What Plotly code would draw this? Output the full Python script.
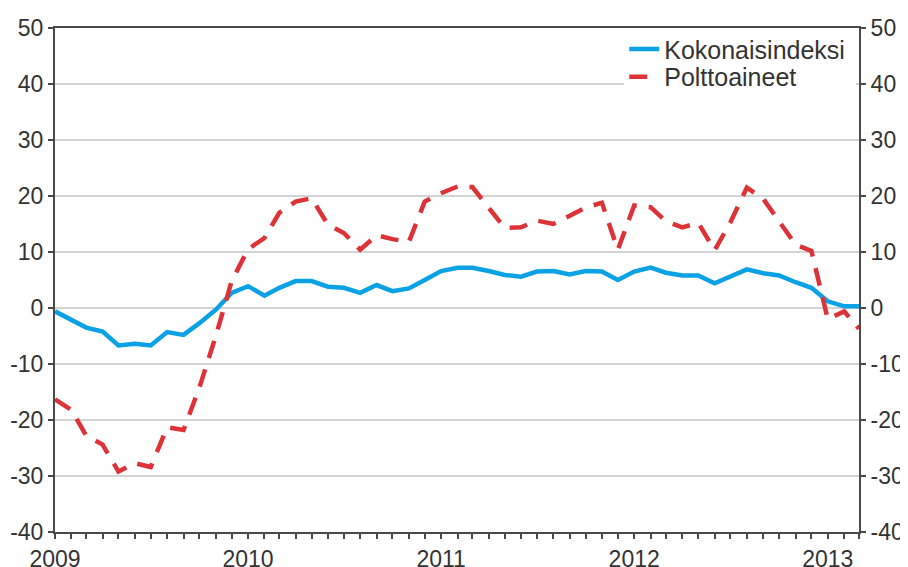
import plotly.graph_objects as go
import pandas as pd

months = [d.strftime("%Y-%m-%d") for d in pd.date_range("2009-01-01", "2013-03-01", freq="MS")]

kokonaisindeksi = [
    -0.6, -2.1, -3.5, -4.2, -6.7, -6.4, -6.7, -4.3, -4.8, -2.7, -0.3, 2.7,
    3.9, 2.2, 3.6, 4.8, 4.8, 3.8, 3.6, 2.7, 4.1, 3.0, 3.5, 5.0,
    6.6, 7.2, 7.2, 6.6, 5.9, 5.6, 6.5, 6.6, 6.0, 6.6, 6.5, 5.0,
    6.5, 7.2, 6.3, 5.8, 5.8, 4.4, 5.6, 6.9, 6.2, 5.8, 4.6, 3.6,
    1.2, 0.3, 0.3,
]

polttoaineet = [
    -16.3, -18.2, -22.8, -24.4, -29.2, -27.7, -28.4, -21.3, -21.8, -14.2, -5.0, 4.8,
    10.5, 12.5, 17.0, 19.0, 19.6, 14.9, 13.4, 10.4, 13.0, 12.3, 11.8, 19.0,
    20.5, 21.7, 21.6, 18.0, 14.3, 14.4, 15.6, 15.0, 16.4, 17.9, 18.8, 10.4,
    18.3, 18.0, 15.5, 14.4, 15.2, 10.3, 15.3, 21.5, 19.5, 15.5, 11.3, 10.2,
    -2.0, -0.6, -3.7,
]

series_names = ["Kokonaisindeksi", "Polttoaineet"]
y_ticks = [-40, -30, -20, -10, 0, 10, 20, 30, 40, 50]
y_labels = ["-40", "-30", "-20", "-10", "0", "10", "20", "30", "40", "50"]
year_ticks = ["2009-01-01", "2010-01-01", "2011-01-01", "2012-01-01", "2013-01-01"]
year_labels = ["2009", "2010", "2011", "2012", "2013"]

BLUE = "#0AA2E4"
RED = "#DD3338"
AXIS = "#4a4a4a"
TEXT = "#333333"
FONT = "Liberation Sans, Arial, sans-serif"
TICKSIZE = 23
LEGSIZE = 25

fig = go.Figure()
fig.add_trace(go.Scatter(
    x=months, y=kokonaisindeksi, name=series_names[0], mode="lines",
    line=dict(color=BLUE, width=4.5), legend="legend2",
))
fig.add_trace(go.Scatter(
    x=months, y=polttoaineet, name=series_names[1], mode="lines",
    line=dict(color=RED, width=4.5, dash="18px,12px"), legend="legend",
))
# invisible trace to drive the right-hand axis
fig.add_trace(go.Scatter(
    x=months, y=kokonaisindeksi, yaxis="y2", mode="lines",
    line=dict(color="rgba(0,0,0,0)", width=0), showlegend=False, hoverinfo="skip",
))

legend_common = dict(
    xanchor="left", yanchor="middle", borderwidth=0,
    font=dict(family=FONT, size=LEGSIZE, color=TEXT), itemwidth=30,
)

# page body has an 8px default margin, so the figure is sized to fit inside it
fig.update_layout(
    width=900, height=559,
    margin=dict(l=47, r=49, t=20, b=35),
    paper_bgcolor="white", plot_bgcolor="white",
    font=dict(family=FONT, size=TICKSIZE, color=TEXT),
    showlegend=True,
    # Polttoaineet row: white box hides the 40 gridline behind the legend
    legend=dict(x=0.708, y=0.903, bgcolor="white", **legend_common),
    # Kokonaisindeksi row: drawn on top, transparent so it does not hide the row below
    legend2=dict(x=0.708, y=0.958, bgcolor="rgba(255,255,255,0)", **legend_common),
    # white legend background band reaching to the right axis
    shapes=[dict(type="rect", xref="paper", yref="paper", x0=0.71, x1=0.996,
                 y0=0.87, y1=0.93, fillcolor="white", line=dict(width=0), layer="above")],
    xaxis=dict(
        type="date", automargin=False,
        range=["2009-01-01", "2013-03-01"],
        tickvals=year_ticks, ticktext=year_labels,
        ticks="outside", ticklen=5, tickwidth=2, tickcolor=AXIS,
        showline=True, linecolor=AXIS, linewidth=2, mirror=True,
        showgrid=False, zeroline=False,
        minor=dict(dtick="M1", tick0="2009-01-01", ticks="outside", ticklen=5,
                   tickwidth=2, tickcolor=AXIS, showgrid=False),
        tickfont=dict(family=FONT, size=TICKSIZE, color=TEXT),
    ),
    yaxis=dict(
        range=[-40, 50], tickvals=y_ticks, ticktext=y_labels, automargin=False,
        ticks="outside", ticklen=5, tickwidth=2, tickcolor=AXIS,
        showline=True, linecolor=AXIS, linewidth=2,
        showgrid=True, gridcolor="#d4d4d4", gridwidth=2,
        zeroline=False,
        tickfont=dict(family=FONT, size=TICKSIZE, color=TEXT),
    ),
    yaxis2=dict(
        range=[-40, 50], tickvals=y_ticks, ticktext=y_labels, automargin=False,
        overlaying="y", side="right",
        ticks="outside", ticklen=5, tickwidth=2, tickcolor=AXIS,
        showline=True, linecolor=AXIS, linewidth=2,
        showgrid=False, zeroline=False,
        tickfont=dict(family=FONT, size=TICKSIZE, color=TEXT),
    ),
)

fig.write_html("out.html")
